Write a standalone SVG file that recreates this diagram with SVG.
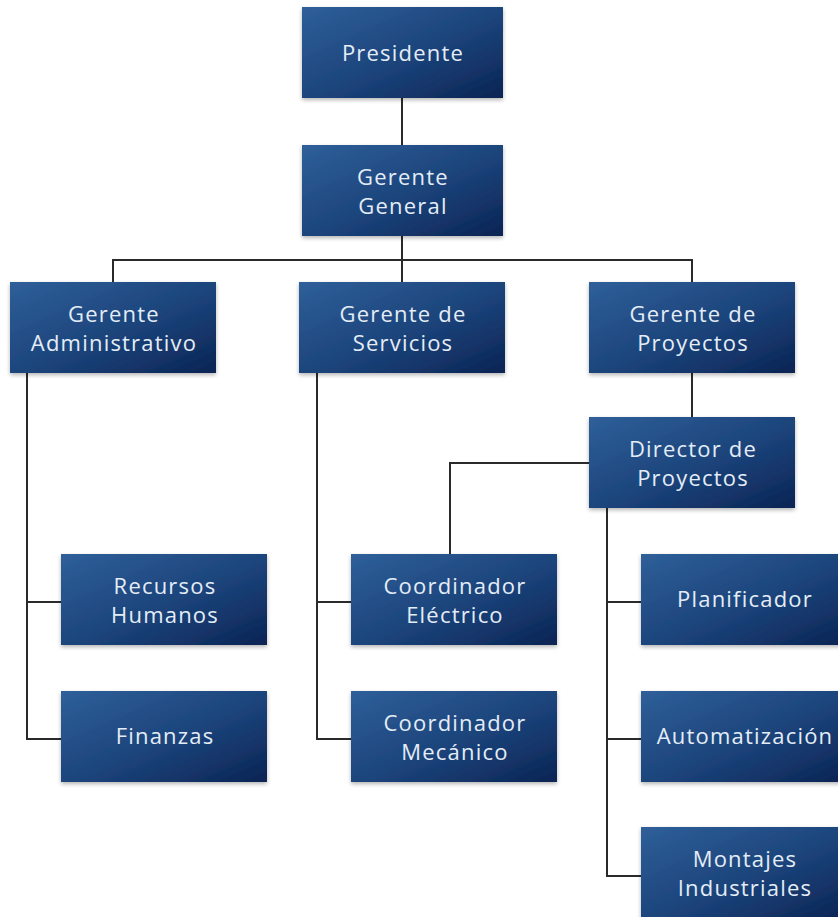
<svg xmlns="http://www.w3.org/2000/svg" width="838" height="917" viewBox="0 0 838 917">
<defs>
<linearGradient id="g" x1="0" y1="0" x2="1" y2="1">
<stop offset="0" stop-color="#2f5f99"/>
<stop offset="0.55" stop-color="#1b437a"/>
<stop offset="1" stop-color="#0b2454"/>
</linearGradient>
<filter id="sh" x="-10%" y="-10%" width="120%" height="125%">
<feGaussianBlur in="SourceAlpha" stdDeviation="2"/>
<feOffset dx="0" dy="2" result="b"/>
<feComponentTransfer><feFuncA type="linear" slope="0.3"/></feComponentTransfer>
<feMerge><feMergeNode/><feMergeNode in="SourceGraphic"/></feMerge>
</filter>
</defs>
<style>
.box{fill:url(#g);filter:url(#sh);}
.t{font-family:"Open Sans","Noto Sans",sans-serif;font-size:22px;letter-spacing:1.2px;fill:#e4edf7;text-anchor:middle;}
.c{fill:none;stroke:#2a2a2a;stroke-width:2;}
</style>
<rect width="838" height="917" fill="#ffffff"/>
<g id="connectors">
<path class="c" d="M402 98V145"/>
<path class="c" d="M402 236V282M113 282V260H692V282"/>
<path class="c" d="M27 372V739H61M27 602H61"/>
<path class="c" d="M317 372V739H351M317 602H351"/>
<path class="c" d="M692 372V417"/>
<path class="c" d="M589 463H450V554"/>
<path class="c" d="M607 508V876H641M607 602H641M607 739H641"/>
</g>
<g id="presidente"><rect class="box" x="302" y="7" width="201" height="91"/><text class="t" x="403" y="61">Presidente</text></g>
<g id="gerente-general"><rect class="box" x="302" y="145" width="201" height="91"/><text class="t" x="403" y="185">Gerente</text><text class="t" x="403" y="214">General</text></g>
<g id="gerente-administrativo"><rect class="box" x="10" y="282" width="206" height="91"/><text class="t" x="114" y="322">Gerente</text><text class="t" x="114" y="351">Administrativo</text></g>
<g id="gerente-servicios"><rect class="box" x="299" y="282" width="206" height="91"/><text class="t" x="403" y="322">Gerente de</text><text class="t" x="403" y="351">Servicios</text></g>
<g id="gerente-proyectos"><rect class="box" x="589" y="282" width="206" height="91"/><text class="t" x="693" y="322">Gerente de</text><text class="t" x="693" y="351">Proyectos</text></g>
<g id="director-proyectos"><rect class="box" x="589" y="417" width="206" height="91"/><text class="t" x="693" y="457">Director de</text><text class="t" x="693" y="486">Proyectos</text></g>
<g id="recursos-humanos"><rect class="box" x="61" y="554" width="206" height="91"/><text class="t" x="165" y="594">Recursos</text><text class="t" x="165" y="623">Humanos</text></g>
<g id="finanzas"><rect class="box" x="61" y="691" width="206" height="91"/><text class="t" x="165" y="744">Finanzas</text></g>
<g id="coordinador-electrico"><rect class="box" x="351" y="554" width="206" height="91"/><text class="t" x="455" y="594">Coordinador</text><text class="t" x="455" y="623">Eléctrico</text></g>
<g id="coordinador-mecanico"><rect class="box" x="351" y="691" width="206" height="91"/><text class="t" x="455" y="731">Coordinador</text><text class="t" x="455" y="760">Mecánico</text></g>
<g id="planificador"><rect class="box" x="641" y="554" width="206" height="91"/><text class="t" x="745" y="607">Planificador</text></g>
<g id="automatizacion"><rect class="box" x="641" y="691" width="206" height="91"/><text class="t" x="745" y="744">Automatización</text></g>
<g id="montajes-industriales"><rect class="box" x="641" y="827" width="206" height="91"/><text class="t" x="745" y="867">Montajes</text><text class="t" x="745" y="896">Industriales</text></g>
</svg>
